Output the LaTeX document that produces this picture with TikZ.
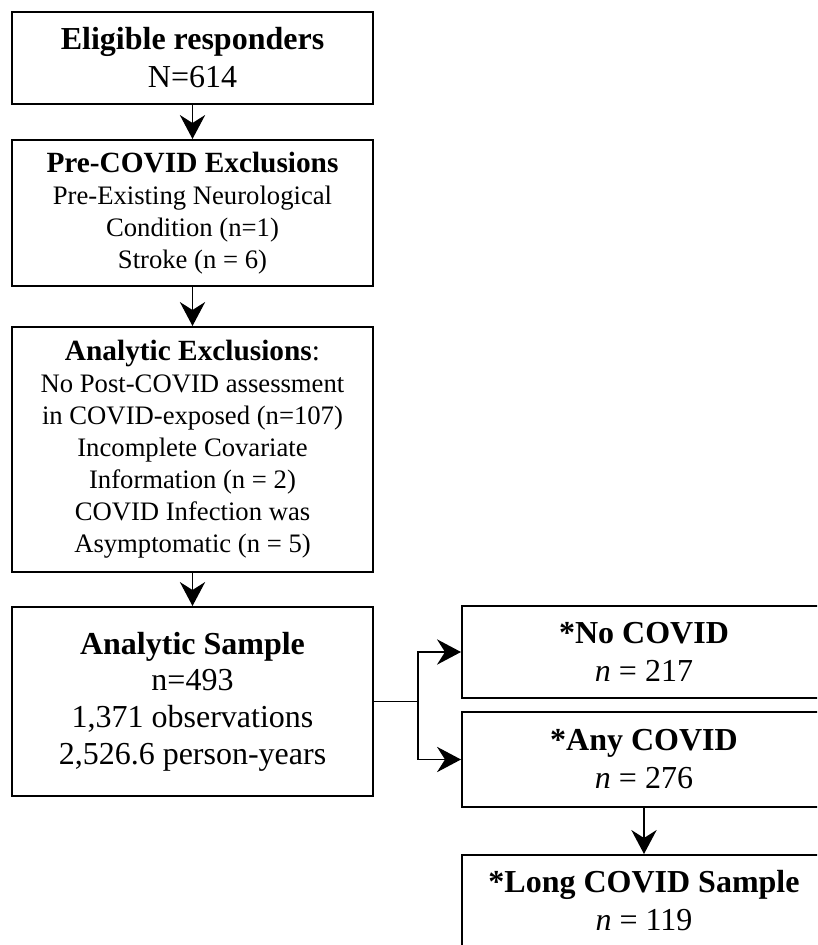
\documentclass[tikz,border=0pt]{standalone}
\usepackage{fontspec}
\setmainfont{Liberation Serif}
\usetikzlibrary{arrows.meta}

\begin{document}
\begin{tikzpicture}[x=0.75pt,y=-0.75pt,
  box/.style={draw,line width=1.5pt,inner sep=0pt,align=center,minimum width=270.75pt},
  sidebox/.style={box,minimum width=273pt},
  big/.style={font=\fontsize{24}{28.5}\selectfont},
  small/.style={font=\fontsize{20}{24}\selectfont},
  head/.style={font=\fontsize{22}{24}\selectfont\bfseries},
  arr/.style={line width=1pt,-{Stealth[length=18pt,width=19pt,inset=6pt]}}]
\useasboundingbox (0,0) rectangle (817,945);
\clip (0,0) rectangle (817,945);
% left column
\node[box,big,minimum height=69pt] (elig) at (192.5,58) {\textbf{Eligible responders}\\N=614};
\node[box,small,minimum height=109.5pt] (precovid) at (192.5,213) {{\fontsize{22}{24}\selectfont\bfseries Pre-COVID Exclusions}\\Pre-Existing Neurological\\Condition (n=1)\\Stroke (n = 6)};
\node[box,small,minimum height=183.75pt] (anexcl) at (192.5,449.5) {{\fontsize{22}{24}\selectfont\bfseries Analytic Exclusions}{\fontsize{22}{24}\selectfont:}\\No Post-COVID assessment\\in COVID-exposed (n=107)\\Incomplete Covariate\\Information (n = 2)\\COVID Infection was\\Asymptomatic (n = 5)};
\node[box,font=\fontsize{24}{27.5}\selectfont,minimum height=141.75pt] (sample) at (192.5,701.5) {\textbf{Analytic Sample}\\n=493\\1,371 observations\\2,526.6 person-years};
% right column
\node[sidebox,big,minimum height=69pt] (nocovid) at (644,652) {\textbf{*No COVID}\\\textit{n} = 217};
\node[sidebox,big,minimum height=71.25pt] (anycovid) at (644,759.5) {\textbf{*Any COVID}\\\textit{n} = 276};
\node[sidebox,big,minimum height=69pt] (longcovid) at (644,901) {\textbf{*Long COVID Sample}\\\textit{n} = 119};
% arrows
\draw[arr] (elig) -- (precovid);
\draw[arr] (precovid) -- (anexcl);
\draw[arr] (anexcl) -- (sample);
\draw[line width=1pt] (sample.east) -- ++(44,0) coordinate (split);
\draw[arr] (split) |- (nocovid.west);
\draw[arr] (split) |- (anycovid.west);
\draw[arr] (anycovid) -- (longcovid);
\end{tikzpicture}
\end{document}
